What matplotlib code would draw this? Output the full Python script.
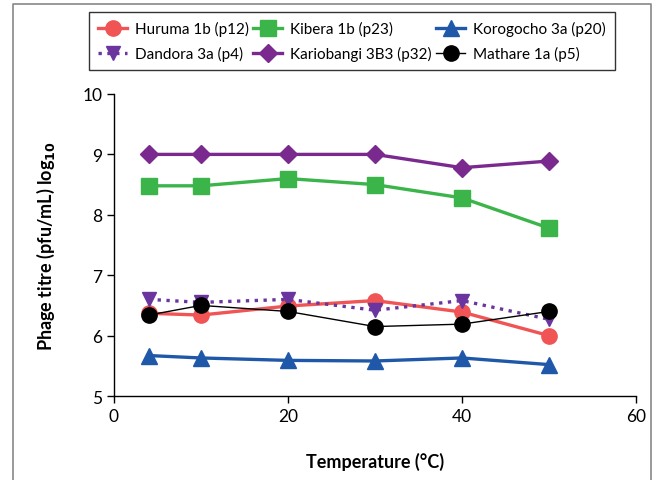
import matplotlib
matplotlib.use('Agg')
import matplotlib.pyplot as plt
from matplotlib.lines import Line2D

plt.rcParams['font.family'] = ['Lato', 'DejaVu Sans']

# data
temperature = [4, 10, 20, 30, 40, 50]
huruma = [6.37, 6.34, 6.49, 6.58, 6.39, 6.00]
kibera = [8.48, 8.48, 8.60, 8.50, 8.28, 7.78]
korogocho = [5.67, 5.63, 5.59, 5.58, 5.63, 5.52]
dandora = [6.60, 6.55, 6.60, 6.42, 6.58, 6.27]
kariobangi = [9.00, 9.00, 9.00, 9.00, 8.78, 8.89]
mathare = [6.34, 6.50, 6.40, 6.15, 6.19, 6.40]

x_ticks = [0, 20, 40, 60]
y_ticks = [5, 6, 7, 8, 9, 10]

fig = plt.figure(figsize=(6.6, 4.81), dpi=100)
ax = fig.add_axes([0.1727, 0.1746, 0.7909, 0.6279])

h1, = ax.plot(temperature, huruma, color='#F05454', lw=2.4, marker='o', ms=11,
              label='Huruma 1b (p12)')
h2, = ax.plot(temperature, kibera, color='#3BB449', lw=2.4, marker='s', ms=11,
              label='Kibera 1b (p23)')
h3, = ax.plot(temperature, korogocho, color='#1F58A8', lw=2.4, marker='^', ms=11,
              label='Korogocho 3a (p20)')
h4, = ax.plot(temperature, dandora, color='#6B35A0', lw=2.4, ls=':', marker='v', ms=10,
              label='Dandora 3a (p4)')
h5, = ax.plot(temperature, kariobangi, color='#7A2A8E', lw=2.4, marker='D', ms=9,
              label='Kariobangi 3B3 (p32)')
h6, = ax.plot(temperature, mathare, color='black', lw=1.0, marker='o', ms=11,
              label='Mathare 1a (p5)')

ax.set_xlim(0, 60)
ax.set_ylim(5, 10)
ax.set_xticks(x_ticks)
ax.set_yticks(y_ticks)
ax.tick_params(direction='out', length=5, width=1, labelsize=12.5)
for side in ['top', 'right']:
    ax.spines[side].set_visible(False)
for side in ['left', 'bottom']:
    ax.spines[side].set_linewidth(1)

ax.set_xlabel('Temperature (°C)', fontsize=13, fontweight='bold', labelpad=20)
ax.set_ylabel('Phage titre (pfu/mL) log$_{\\mathbf{10}}$', fontsize=13,
              fontweight='bold', labelpad=18)

# legend filled row by row like the original
handles = [h1, h4, h2, h5, h3, h6]
leg = fig.legend(handles=handles, labels=[h.get_label() for h in handles],
                 loc='upper center', bbox_to_anchor=(0.533, 0.973), ncol=3,
                 fontsize=11, frameon=True, fancybox=False, edgecolor='black',
                 handlelength=1.9, columnspacing=0.3, borderpad=0.6,
                 labelspacing=0.65, handletextpad=0.5, borderaxespad=0)
leg.get_frame().set_linewidth(1)

# grey outer frame (left, top, right)
x0, x1, y1 = 13 / 660, 651 / 660, 1 - 5 / 481
fig.add_artist(Line2D([x0, x0, x1, x1], [0, y1, y1, 0], color='#888888',
                      lw=1.2, transform=fig.transFigure))

fig.savefig('out.png', dpi=100)
